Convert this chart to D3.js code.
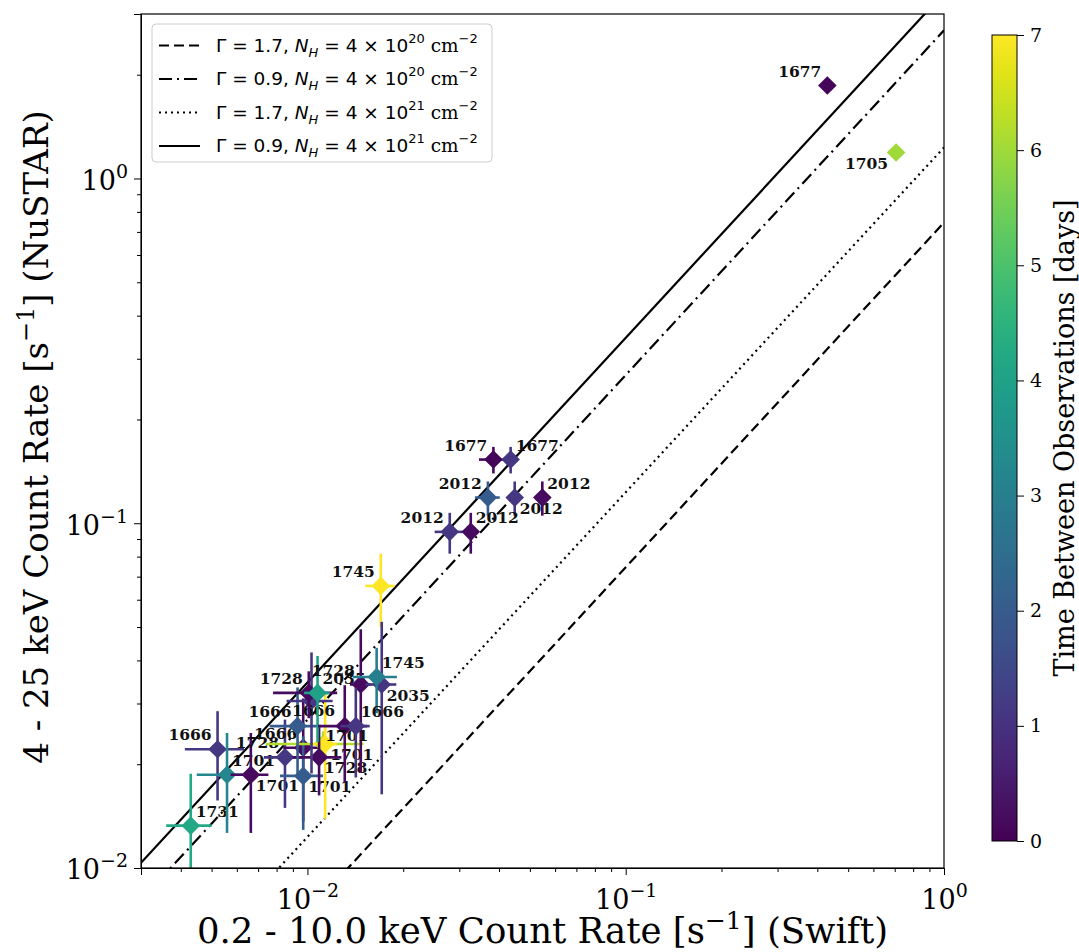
<!DOCTYPE html>
<html>
<head>
<meta charset="utf-8">
<script src="https://cdn.jsdelivr.net/npm/d3@7"></script>
<style>
  body { margin: 0; background: #fff; }
  svg { display: block; }
  .serif { font-family: "DejaVu Serif", serif; }
</style>
</head>
<body>
<div id="chart"></div>
<script>
// Swift (x) and NuSTAR (y) count rates, symmetric errors, time gap in days
var swiftRate = [0.430, 0.707, 0.0384, 0.0435, 0.0369, 0.0448, 0.0547, 0.028, 0.0326, 0.017,
                 0.0043, 0.00522, 0.00559, 0.00664, 0.0085, 0.0097, 0.0097, 0.0112, 0.01137, 0.01088,
                 0.00931, 0.0103, 0.0101, 0.01076, 0.01471, 0.01712, 0.0165, 0.0131, 0.01419];
var swiftErr = [0.015, 0.02, 0.0038, 0.002, 0.0033, 0.002, 0.001, 0.0029, 0.0015, 0.0018,
                0.0007, 0.0011, 0.0011, 0.0009, 0.0012, 0.0013, 0.0015, 0.0038, 0.001, 0.0019,
                0.0017, 0.0017, 0.0023, 0.001, 0.0011, 0.0019, 0.0026, 0.0023, 0.0015];
var nustarRate = [1.86, 1.19, 0.153, 0.153, 0.1187, 0.1187, 0.1187, 0.0944, 0.0944, 0.0658,
                  0.01327, 0.0221, 0.01864, 0.01864, 0.02094, 0.02233, 0.0185, 0.0229, 0.02288, 0.02094,
                  0.0258, 0.0305, 0.0322, 0.0322, 0.03406, 0.03406, 0.0358, 0.0258, 0.0258];
var nustarErr = [0.04, 0.03, 0.0135, 0.0135, 0.0135, 0.0135, 0.0135, 0.0128, 0.0128, 0.0158,
                 0.0055, 0.0064, 0.006, 0.006, 0.006, 0.0087, 0.0056, 0.002, 0.009, 0.0047,
                 0.0076, 0.0117, 0.005, 0.009, 0.0152, 0.0177, 0.0077, 0.0081, 0.0075];
var deltaDays = [0.1, 6.0, 0.1, 1.1, 2.0, 1.1, 0.2, 1.1, 0.2, 7.0,
                 4.2, 1.1, 3.2, 0.2, 1.1, 0.2, 2.0, 6.2, 7.0, 0.2,
                 2.0, 1.1, 0.2, 4.0, 0.2, 1.1, 3.0, 0.2, 1.1];
var obsLabels = ["1677", "1705", "1677", "1677", "2012", "2012", "2012", "2012", "2012", "1745",
                 "1731", "1666", "1701", "1701", "1728", "1666", "1701", "", "1701", "1728",
                 "1666", "1666", "1728", "2035", "1728", "2035", "1745", "1701", "1666"];
// which side of the marker the annotation sits on
var labelSide = ["ul", "ll", "ul", "ur", "ul", "lr", "ur", "ul", "ur", "ul",
                 "ur", "ul", "ur", "lr", "ul", "ul", "lr", "", "lr", "lr",
                 "ul", "d", "ul", "ur", "ul", "lr", "ur", "d", "ur"];

// model lines: NuSTAR = ratio * Swift
var modelGamma = ["1.7", "0.9", "1.7", "0.9"];
var modelNhExp = ["20", "20", "21", "21"];
var modelRatio = [0.745, 2.69, 1.23, 3.45];
var modelDash = ["10,5", "13,5,2,5", "2,4", null];

var xTicks = [0.01, 0.1, 1];
var xTickExp = ["\u22122", "\u22121", "0"];
var yTicks = [0.01, 0.1, 1];
var yTickExp = ["\u22122", "\u22121", "0"];
var cbarTicks = [0, 1, 2, 3, 4, 5, 6, 7];

var svgWidth = 1079;
var svgHeight = 952;
var margin = { top: 14, right: 135, bottom: 84, left: 141 };
var width = svgWidth - margin.left - margin.right;
var height = svgHeight - margin.top - margin.bottom;

var svg = d3.select("#chart").append("svg")
    .attr("width", svgWidth)
    .attr("height", svgHeight);

var chartGroup = svg.append("g")
    .attr("transform", `translate(${margin.left}, ${margin.top})`);

var xScale = d3.scaleLog().domain([0.003, 1]).range([0, width]);
var yScale = d3.scaleLog().domain([0.01, 3]).range([height, 0]);
var color = d3.scaleSequential(d3.interpolateViridis).domain([0, 7]);

svg.append("clipPath").attr("id", "plotClip")
    .append("rect").attr("width", width).attr("height", height);

var plot = chartGroup.append("g").attr("clip-path", "url(#plotClip)");

// model lines
modelRatio.forEach(function (r, i) {
    var pts = [0.003, 1].map(v => [xScale(v), yScale(v * r)]);
    plot.append("path")
        .attr("d", d3.line()(pts))
        .attr("fill", "none")
        .attr("stroke", "#000")
        .attr("stroke-width", 2.2)
        .attr("stroke-dasharray", modelDash[i]);
});

// points with error bars and labels
var diamond = "M0,-9.3L9.3,0L0,9.3L-9.3,0Z";
var sideOffset = {
    ul: { anchor: "end", dx: -6, dy: -9 },
    ur: { anchor: "start", dx: 5, dy: -9 },
    ll: { anchor: "end", dx: -8, dy: 17 },
    lr: { anchor: "start", dx: 5, dy: 16 },
    d: { anchor: "middle", dx: 2, dy: 15 }
};

swiftRate.forEach(function (sx, i) {
    var c = color(deltaDays[i]);
    var cx = xScale(sx), cy = yScale(nustarRate[i]);
    var g = plot.append("g");
    g.append("line")
        .attr("x1", xScale(sx - swiftErr[i])).attr("x2", xScale(sx + swiftErr[i]))
        .attr("y1", cy).attr("y2", cy)
        .attr("stroke", c).attr("stroke-width", 2.6);
    var lo = nustarRate[i] - nustarErr[i];
    g.append("line")
        .attr("x1", cx).attr("x2", cx)
        .attr("y1", lo > 0 ? yScale(lo) : height + 20)
        .attr("y2", yScale(nustarRate[i] + nustarErr[i]))
        .attr("stroke", c).attr("stroke-width", 2.6);
    g.append("path")
        .attr("d", diamond)
        .attr("transform", `translate(${cx}, ${cy})`)
        .attr("fill", c);
    var s = sideOffset[labelSide[i]];
    if (s && obsLabels[i]) {
        g.append("text")
            .attr("class", "serif")
            .attr("x", cx + s.dx)
            .attr("y", cy + s.dy)
            .attr("text-anchor", s.anchor)
            .attr("font-size", 15.5)
            .attr("font-weight", "bold")
            .attr("fill", "#111")
            .text(obsLabels[i]);
    }
});

// axes
function minorTicks(domain) {
    var out = [];
    for (var e = -3; e <= 1; e++) {
        for (var m = 2; m <= 9; m++) {
            var v = m * Math.pow(10, e);
            if (v >= domain[0] && v <= domain[1]) out.push(v);
        }
    }
    return out;
}

chartGroup.append("g")
    .attr("transform", `translate(0, ${height})`)
    .call(d3.axisBottom(xScale).tickValues(minorTicks(xScale.domain())).tickSize(4).tickFormat(""))
    .call(g => g.select(".domain").remove());
chartGroup.append("g")
    .call(d3.axisLeft(yScale).tickValues(minorTicks(yScale.domain())).tickSize(4).tickFormat(""))
    .call(g => g.select(".domain").remove());

var xAxisG = chartGroup.append("g")
    .attr("transform", `translate(0, ${height})`)
    .call(d3.axisBottom(xScale).tickValues(xTicks).tickSize(7).tickPadding(8).tickFormat(""));
var yAxisG = chartGroup.append("g")
    .call(d3.axisLeft(yScale).tickValues(yTicks).tickSize(7).tickPadding(6).tickFormat(""));

function powerLabel(sel, exps) {
    sel.selectAll(".tick text").each(function (d, i) {
        var t = d3.select(this)
            .attr("class", "serif")
            .attr("font-size", 27)
            .attr("fill", "#000");
        t.append("tspan").text("10");
        t.append("tspan").attr("dy", -12).attr("font-size", 19).text(exps[i]);
    });
}
powerLabel(xAxisG, xTickExp);
xAxisG.selectAll(".tick text").attr("dy", "0.95em");
powerLabel(yAxisG, yTickExp);
yAxisG.selectAll(".tick text").attr("dy", "0.4em");

svg.selectAll(".tick line").attr("stroke", "#000").attr("stroke-width", 1);

// frame
chartGroup.append("rect")
    .attr("width", width).attr("height", height)
    .attr("fill", "none").attr("stroke", "#000").attr("stroke-width", 1.2);

// axis titles
var xTitle = svg.append("text")
    .attr("class", "serif")
    .attr("x", margin.left + width / 2)
    .attr("y", 943)
    .attr("text-anchor", "middle")
    .attr("font-size", 35.5);
xTitle.append("tspan").text("0.2 - 10.0 keV Count Rate [s");
xTitle.append("tspan").attr("dy", -14).attr("font-size", 25).text("\u22121");
xTitle.append("tspan").attr("dy", 14).text("] (Swift)");

var yTitle = svg.append("text")
    .attr("class", "serif")
    .attr("transform", `translate(48, ${margin.top + height / 2 - 4}) rotate(-90)`)
    .attr("text-anchor", "middle")
    .attr("font-size", 34);
yTitle.append("tspan").text("4 - 25 keV Count Rate [s");
yTitle.append("tspan").attr("dy", -14).attr("font-size", 24).text("\u22121");
yTitle.append("tspan").attr("dy", 14).text("] (NuSTAR)");

// legend
var legend = svg.append("g").attr("transform", "translate(152, 24)");
legend.append("rect")
    .attr("width", 340).attr("height", 138).attr("rx", 4)
    .attr("fill", "#fff").attr("fill-opacity", 0.85)
    .attr("stroke", "#cccccc").attr("stroke-width", 1);
modelGamma.forEach(function (gam, i) {
    var ly = 21.5 + i * 33.5;
    legend.append("line")
        .attr("x1", 7).attr("x2", 48).attr("y1", ly).attr("y2", ly)
        .attr("stroke", "#000").attr("stroke-width", 2.2)
        .attr("stroke-dasharray", modelDash[i]);
    var t = legend.append("text")
        .attr("x", 64).attr("y", ly + 6)
        .attr("font-family", "DejaVu Sans")
        .attr("font-size", 18.5);
    t.append("tspan").text("\u0393 = " + gam + ", ");
    t.append("tspan").attr("font-style", "italic").text("N");
    t.append("tspan").attr("font-style", "italic").attr("font-size", 13).attr("dy", 5).text("H");
    t.append("tspan").attr("dy", -5).text(" = 4 \u00d7 10");
    t.append("tspan").attr("font-size", 13).attr("dy", -9).text(modelNhExp[i]);
    t.append("tspan").attr("dy", 9).attr("font-family", "DejaVu Serif").text(" cm");
    t.append("tspan").attr("font-size", 13).attr("dy", -9).text("\u22122");
});

// colorbar
var cbX = 992, cbW = 25, cbTop = 35, cbBottom = 841;
var defs = svg.append("defs");
var grad = defs.append("linearGradient").attr("id", "viridisGrad")
    .attr("x1", 0).attr("y1", 1).attr("x2", 0).attr("y2", 0);
d3.range(0, 1.0001, 0.05).forEach(function (t) {
    grad.append("stop").attr("offset", t).attr("stop-color", d3.interpolateViridis(t));
});
svg.append("rect")
    .attr("x", cbX).attr("y", cbTop).attr("width", cbW).attr("height", cbBottom - cbTop)
    .attr("fill", "url(#viridisGrad)")
    .attr("stroke", "#000").attr("stroke-width", 1);
var cbScale = d3.scaleLinear().domain([0, 7]).range([cbBottom, cbTop]);
var cbAxis = svg.append("g")
    .attr("transform", `translate(${cbX + cbW}, 0)`)
    .call(d3.axisRight(cbScale).tickValues(cbarTicks).tickSize(7).tickPadding(6).tickFormat(d3.format("d")));
cbAxis.select(".domain").remove();
cbAxis.selectAll(".tick line").attr("stroke", "#000");
cbAxis.selectAll(".tick text")
    .attr("class", "serif")
    .attr("font-size", 19)
    .attr("fill", "#000");

svg.append("text")
    .attr("class", "serif")
    .attr("transform", `translate(1074, ${(cbTop + cbBottom) / 2}) rotate(-90)`)
    .attr("text-anchor", "middle")
    .attr("font-size", 27)
    .text("Time Between Observations [days]");
</script>
</body>
</html>
